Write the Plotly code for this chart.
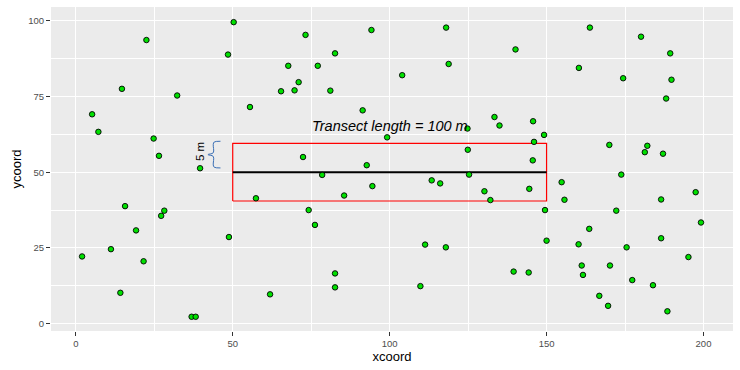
import plotly.graph_objects as go

# ---- data ----
xcoord = [50.3, 48.5, 22.5, 14.7, 32.3, 5.2, 7.2, 24.8, 26.5, 55.5,
          65.4, 39.6, 73.2, 94.2, 118.0, 82.6, 67.7, 77.1, 118.8, 104.0,
          71.0, 69.7, 81.1, 91.4, 133.4, 135.0, 124.8, 99.2, 72.4, 92.7,
          124.9, 163.8, 180.1, 189.4, 140.1, 160.3, 174.4, 189.8, 188.1, 145.7,
          149.2, 146.0, 170.0, 182.1, 181.3, 187.1, 145.6, 57.4, 15.7, 28.2,
          27.2, 19.2, 11.2, 2.0, 21.6, 48.8, 14.2, 36.9, 38.2, 61.9,
          78.5, 94.5, 85.5, 74.2, 76.2, 113.4, 116.1, 125.3, 130.2, 132.1,
          111.3, 117.9, 82.6, 82.6, 109.8, 173.8, 154.8, 144.5, 155.7, 197.5,
          186.5, 149.5, 172.2, 199.2, 163.6, 150.0, 160.2, 186.5, 175.5, 195.2,
          139.5, 144.3, 161.2, 170.2, 161.6, 177.3, 183.9, 166.8, 169.6, 188.5]
ycoord = [99.5, 88.8, 93.6, 77.5, 75.3, 69.1, 63.3, 61.1, 55.4, 71.5,
          76.7, 51.3, 95.3, 96.9, 97.7, 89.2, 85.1, 85.1, 85.7, 82.0,
          79.7, 77.0, 76.9, 70.4, 68.2, 65.4, 64.4, 61.5, 55.0, 52.3,
          57.4, 97.7, 94.7, 89.2, 90.5, 84.4, 81.0, 80.5, 74.3, 66.8,
          62.3, 60.0, 59.0, 58.7, 56.6, 56.1, 53.9, 41.4, 38.8, 37.3,
          35.6, 30.8, 24.6, 22.2, 20.6, 28.6, 10.2, 2.3, 2.3, 9.7,
          49.1, 45.4, 42.3, 37.5, 32.6, 47.3, 46.3, 49.2, 43.7, 40.8,
          26.1, 25.2, 16.6, 12.0, 12.4, 49.2, 46.7, 44.5, 40.9, 43.4,
          41.0, 37.5, 37.3, 33.4, 31.3, 27.4, 26.2, 28.2, 25.2, 22.0,
          17.2, 16.9, 19.2, 19.2, 16.1, 14.4, 12.7, 9.2, 5.9, 4.1]

transect_x = [50, 150]
transect_y = 50
rect_x = [50, 150]
rect_y = [40.5, 59.5]
brace_y = [51.4, 60.2]
brace_x = [42.1, 43.8, 46.1]   # tip, bar, arm ends
label_main = "Transect length = 100 m"
label_width = "5 m"

x_ticks = [0, 50, 100, 150, 200]
y_ticks = [0, 25, 50, 75, 100]

# ---- figure ----
fig = go.Figure()

# rectangle
fig.add_trace(go.Scatter(
    x=[rect_x[0], rect_x[1], rect_x[1], rect_x[0], rect_x[0]],
    y=[rect_y[0], rect_y[0], rect_y[1], rect_y[1], rect_y[0]],
    mode="lines", line=dict(color="#ff0000", width=1.2),
    hoverinfo="skip", showlegend=False))

# transect line
fig.add_trace(go.Scatter(
    x=transect_x, y=[transect_y, transect_y],
    mode="lines", line=dict(color="black", width=2),
    hoverinfo="skip", showlegend=False))

# curly brace
y0, y1 = brace_y
ym = (y0 + y1) / 2
tip, bar, arm = brace_x
bx = [arm, bar + 0.3, bar, bar, tip, bar, bar, bar + 0.3, arm]
by = [y1, y1 - 0.25, y1 - 1.0, ym + 0.6, ym, ym - 0.6, y0 + 1.0, y0 + 0.25, y0]
fig.add_trace(go.Scatter(
    x=bx, y=by, mode="lines",
    line=dict(color="#3a6fb5", width=1, shape="spline", smoothing=1.0),
    hoverinfo="skip", showlegend=False))

# points
fig.add_trace(go.Scatter(
    x=xcoord, y=ycoord, mode="markers",
    marker=dict(size=5.5, color="#00e000", line=dict(color="black", width=0.9)),
    showlegend=False))

fig.add_annotation(x=100, y=65.2, text="<i>" + label_main + "</i>", showarrow=False,
                   font=dict(family="Liberation Sans", size=14.5, color="black"),
                   xanchor="center", yanchor="middle")
fig.add_annotation(x=39.4, y=ym + 1, text=label_width, showarrow=False,
                   textangle=-90,
                   font=dict(family="Liberation Sans", size=11.5, color="black"),
                   xanchor="center", yanchor="middle")

axis_common = dict(
    showgrid=True, gridcolor="white", gridwidth=1.1,
    zeroline=False, showline=False, automargin=False,
    ticks="outside", ticklen=4, tickwidth=1, tickcolor="#333333",
    tickfont=dict(family="Liberation Sans", size=9.5, color="#4d4d4d"),
)

fig.update_xaxes(
    range=[-7.9, 209.4], tickvals=x_ticks,
    minor=dict(dtick=25, tick0=0, showgrid=True, gridcolor="white", gridwidth=0.5, ticks=""),
    title=dict(text="xcoord", font=dict(family="Liberation Sans", size=13, color="black"), standoff=2),
    **axis_common)
fig.update_yaxes(
    range=[-2.4, 104.5], tickvals=y_ticks,
    minor=dict(dtick=12.5, tick0=0, showgrid=True, gridcolor="white", gridwidth=0.5, ticks=""),
    title=dict(text="ycoord", font=dict(family="Liberation Sans", size=13, color="black"), standoff=3),
    **axis_common)

fig.update_layout(
    width=740, height=370,
    margin=dict(l=51, r=7, t=7, b=39),
    plot_bgcolor="#ebebeb", paper_bgcolor="white",
    font=dict(family="Liberation Sans"),
)

fig.write_html("out.html",
               config={"displayModeBar": False},
               post_script="document.body.style.margin='0';document.body.style.overflow='hidden';")
